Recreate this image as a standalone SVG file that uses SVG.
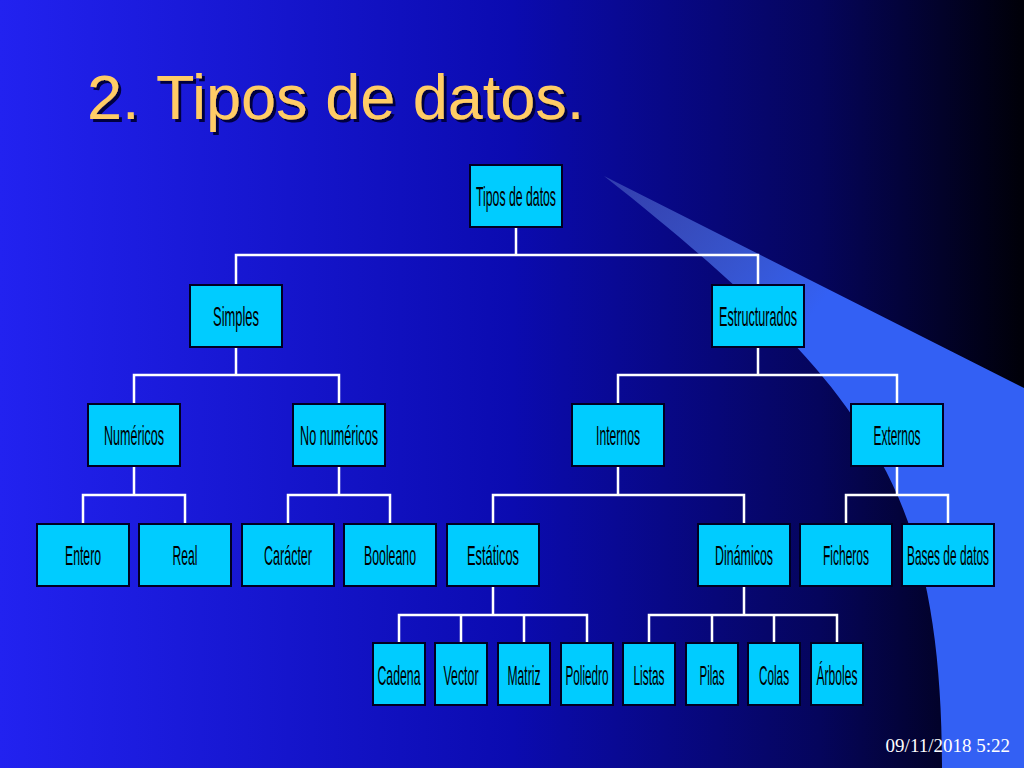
<svg xmlns="http://www.w3.org/2000/svg" width="1024" height="768" viewBox="0 0 1024 768">
<defs>
<linearGradient id="bg" x1="0" y1="0" x2="1" y2="0">
<stop offset="0" stop-color="#2222f0"/><stop offset="0.5" stop-color="#0b0bb0"/><stop offset="0.8" stop-color="#05055c"/><stop offset="1" stop-color="#000008"/>
</linearGradient>
<linearGradient id="sw" x1="604" y1="176" x2="800" y2="330" gradientUnits="userSpaceOnUse">
<stop offset="0" stop-color="#5a70c8" stop-opacity="0.5"/><stop offset="1" stop-color="#3360f4"/>
</linearGradient>
<filter id="sh" x="-5%" y="-20%" width="110%" height="140%"><feDropShadow dx="3" dy="3" stdDeviation="0" flood-color="#000040"/></filter>
<style>
.n rect{fill:#00ccff;stroke:#000022;stroke-width:2}
.n text{font-family:"Liberation Sans",Arial,sans-serif;font-size:28px;fill:#000;text-anchor:middle}
.c path{stroke:#fff;stroke-width:2.5;fill:none}
</style>
</defs>
<rect width="1024" height="768" fill="url(#bg)"/>
<path d="M604,176 L1024,388 L1024,768 L942,768 C942,640 925,540 880,460 C845,400 800,330 604,176 Z" fill="url(#sw)"/>
<text x="87" y="119" font-family="'Liberation Sans',Arial,sans-serif" font-size="63" fill="#ffcc66" filter="url(#sh)">2. Tipos de datos.</text>
<text x="1010" y="752" text-anchor="end" font-family="'Liberation Serif','Times New Roman',serif" font-size="19" fill="#fff">09/11/2018 5:22</text>
<g class="c">
<path d="M516,227V255M236,285V255H758V285"/>
<path d="M236,347V375M134,404V375H339V404M758,347V375M618,404V375H897V404"/>
<path d="M134,466V495M83,524V495H185V524M339,466V495M288,524V495H390V524M618,466V495M493,524V495H744V524M897,466V495M846,524V495H948V524"/>
<path d="M493,586V615M399,643V615H587V643M461,615V643M524,615V643M744,586V615M649,643V615H837V643M712,615V643M774,615V643"/>
</g>
<g id="n0" class="n"><rect x="470" y="165" width="92" height="62"/><text x="516" y="206" textLength="80" lengthAdjust="spacingAndGlyphs">Tipos de datos</text></g>
<g id="n1" class="n"><rect x="190" y="285" width="92" height="62"/><text x="236" y="326" textLength="46" lengthAdjust="spacingAndGlyphs">Simples</text></g>
<g id="n2" class="n"><rect x="712" y="285" width="92" height="62"/><text x="758" y="326" textLength="78" lengthAdjust="spacingAndGlyphs">Estructurados</text></g>
<g id="n3" class="n"><rect x="88" y="404" width="92" height="62"/><text x="134" y="445" textLength="60" lengthAdjust="spacingAndGlyphs">Numéricos</text></g>
<g id="n4" class="n"><rect x="293" y="404" width="92" height="62"/><text x="339" y="445" textLength="78" lengthAdjust="spacingAndGlyphs">No numéricos</text></g>
<g id="n5" class="n"><rect x="572" y="404" width="92" height="62"/><text x="618" y="445" textLength="44" lengthAdjust="spacingAndGlyphs">Internos</text></g>
<g id="n6" class="n"><rect x="851" y="404" width="92" height="62"/><text x="897" y="445" textLength="47" lengthAdjust="spacingAndGlyphs">Externos</text></g>
<g id="n7" class="n"><rect x="37" y="524" width="92" height="62"/><text x="83" y="565" textLength="36" lengthAdjust="spacingAndGlyphs">Entero</text></g>
<g id="n8" class="n"><rect x="139" y="524" width="92" height="62"/><text x="185" y="565" textLength="25" lengthAdjust="spacingAndGlyphs">Real</text></g>
<g id="n9" class="n"><rect x="242" y="524" width="92" height="62"/><text x="288" y="565" textLength="48" lengthAdjust="spacingAndGlyphs">Carácter</text></g>
<g id="n10" class="n"><rect x="344" y="524" width="92" height="62"/><text x="390" y="565" textLength="52" lengthAdjust="spacingAndGlyphs">Booleano</text></g>
<g id="n11" class="n"><rect x="447" y="524" width="92" height="62"/><text x="493" y="565" textLength="52" lengthAdjust="spacingAndGlyphs">Estáticos</text></g>
<g id="n12" class="n"><rect x="698" y="524" width="92" height="62"/><text x="744" y="565" textLength="58" lengthAdjust="spacingAndGlyphs">Dinámicos</text></g>
<g id="n13" class="n"><rect x="800" y="524" width="92" height="62"/><text x="846" y="565" textLength="46" lengthAdjust="spacingAndGlyphs">Ficheros</text></g>
<g id="n14" class="n"><rect x="902" y="524" width="92" height="62"/><text x="948" y="565" textLength="82" lengthAdjust="spacingAndGlyphs">Bases de datos</text></g>
<g id="n15" class="n"><rect x="373" y="643" width="52" height="62"/><text x="399" y="685" textLength="43" lengthAdjust="spacingAndGlyphs">Cadena</text></g>
<g id="n16" class="n"><rect x="435" y="643" width="52" height="62"/><text x="461" y="685" textLength="35" lengthAdjust="spacingAndGlyphs">Vector</text></g>
<g id="n17" class="n"><rect x="498" y="643" width="52" height="62"/><text x="524" y="685" textLength="33" lengthAdjust="spacingAndGlyphs">Matriz</text></g>
<g id="n18" class="n"><rect x="561" y="643" width="52" height="62"/><text x="587" y="685" textLength="43" lengthAdjust="spacingAndGlyphs">Poliedro</text></g>
<g id="n19" class="n"><rect x="623" y="643" width="52" height="62"/><text x="649" y="685" textLength="31" lengthAdjust="spacingAndGlyphs">Listas</text></g>
<g id="n20" class="n"><rect x="686" y="643" width="52" height="62"/><text x="712" y="685" textLength="25" lengthAdjust="spacingAndGlyphs">Pilas</text></g>
<g id="n21" class="n"><rect x="748" y="643" width="52" height="62"/><text x="774" y="685" textLength="30" lengthAdjust="spacingAndGlyphs">Colas</text></g>
<g id="n22" class="n"><rect x="811" y="643" width="52" height="62"/><text x="837" y="685" textLength="41" lengthAdjust="spacingAndGlyphs">Árboles</text></g>
</svg>
